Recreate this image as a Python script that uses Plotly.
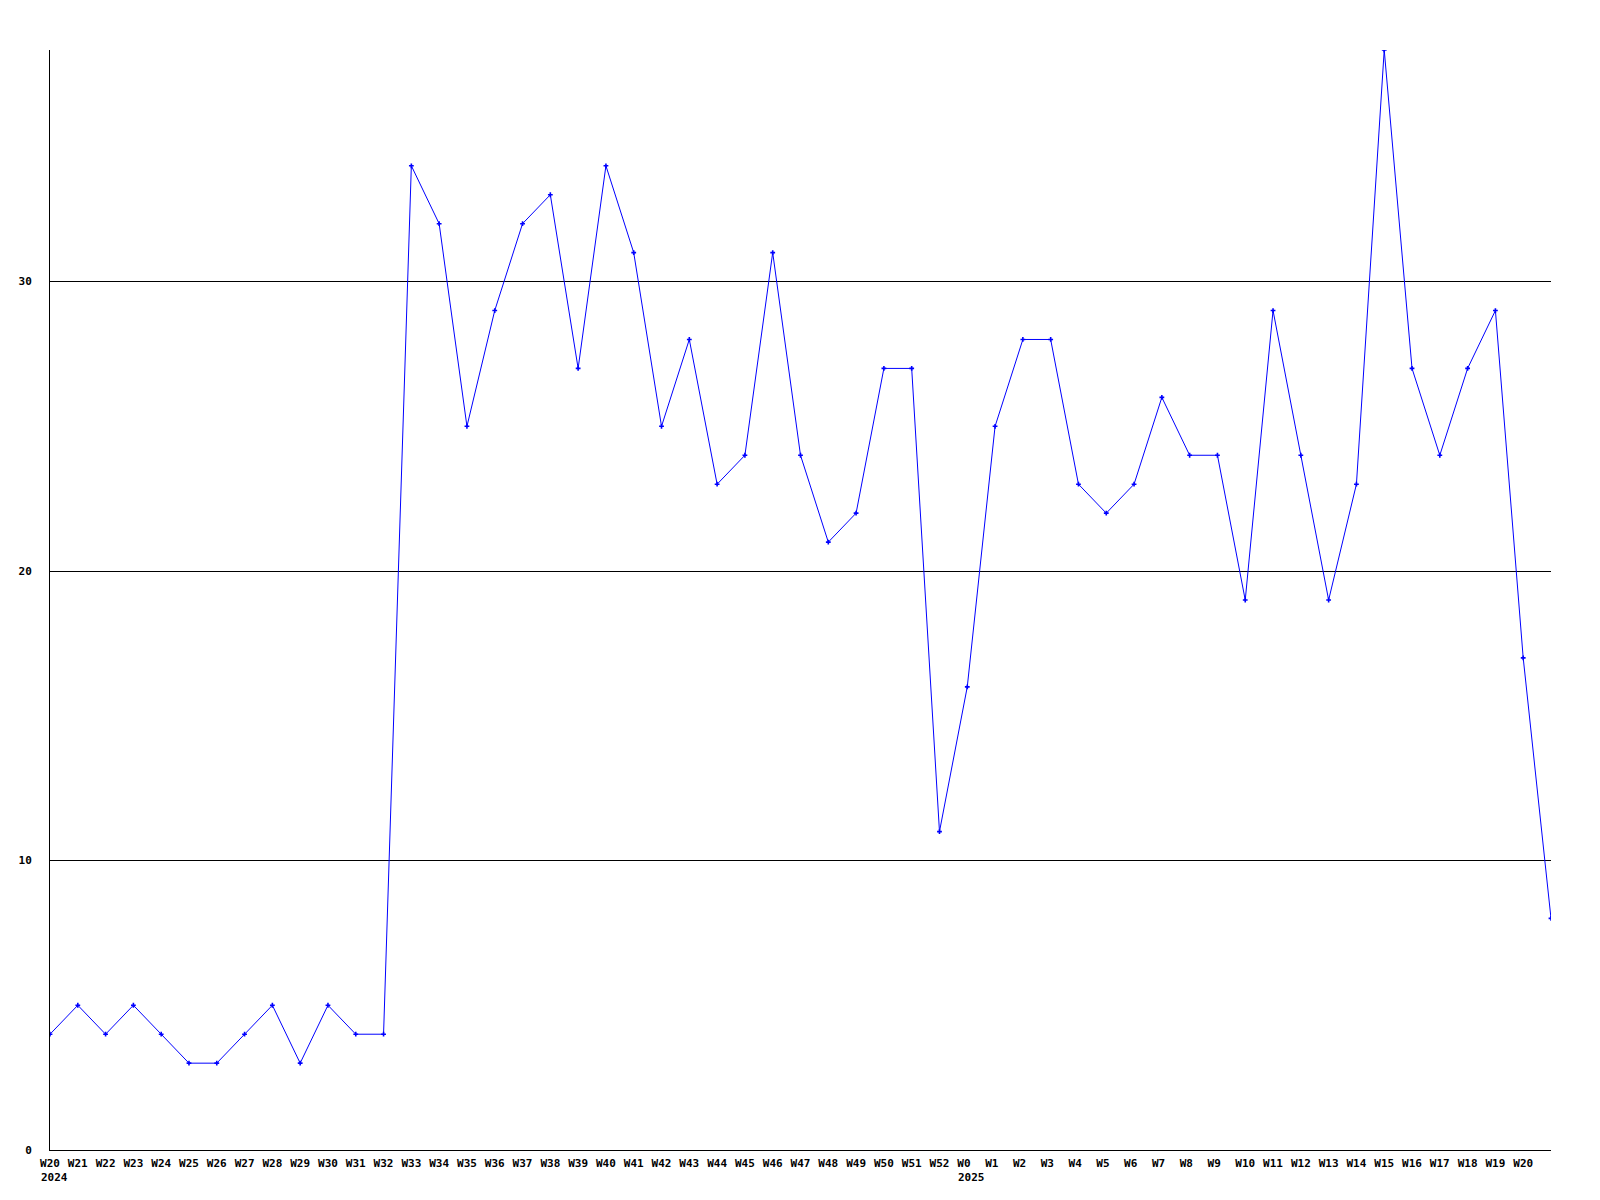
import plotly.graph_objects as go

weeks = ["W20", "W21", "W22", "W23", "W24", "W25", "W26", "W27", "W28", "W29",
         "W30", "W31", "W32", "W33", "W34", "W35", "W36", "W37", "W38", "W39",
         "W40", "W41", "W42", "W43", "W44", "W45", "W46", "W47", "W48", "W49",
         "W50", "W51", "W52", "W0", "W1", "W2", "W3", "W4", "W5", "W6",
         "W7", "W8", "W9", "W10", "W11", "W12", "W13", "W14", "W15", "W16",
         "W17", "W18", "W19", "W20", "W21"]
values = [4, 5, 4, 5, 4, 3, 3, 4, 5, 3,
          5, 4, 4, 34, 32, 25, 29, 32, 33, 27,
          34, 31, 25, 28, 23, 24, 31, 24, 21, 22,
          27, 27, 11, 16, 25, 28, 28, 23, 22, 23,
          26, 24, 24, 19, 29, 24, 19, 23, 38, 27,
          24, 27, 29, 17, 8]
year_labels = {0: "2024", 33: "2025"}
y_ticks = [0, 10, 20, 30]

x_idx = list(range(len(weeks)))
shown = x_idx[:-1]

font = dict(family="DejaVu Sans Mono", size=11, color="black", weight="bold")

fig = go.Figure()
fig.add_trace(go.Scatter(
    x=x_idx, y=values, mode="lines+markers",
    line=dict(color="#0000ff", width=1),
    marker=dict(symbol="cross", size=4, color="#0000ff", line=dict(width=0)),
    cliponaxis=True, showlegend=False, hoverinfo="skip"))

for i, yr in year_labels.items():
    fig.add_annotation(x=i, y=0, xref="x", yref="paper", text=yr, showarrow=False,
                       xanchor="left", yanchor="top", xshift=-11, yshift=-19,
                       font=font)

fig.update_layout(
    width=1600, height=1200,
    margin=dict(l=50, r=49, t=50, b=50, pad=0),
    paper_bgcolor="white", plot_bgcolor="white",
    xaxis=dict(range=[0, len(weeks) - 1], tickvals=shown,
               ticktext=[weeks[i].ljust(3, "\u00a0") for i in shown],
               showgrid=False, zeroline=False, showline=True,
               linecolor="black", linewidth=1, ticks="",
               tickfont=font, ticklabelstandoff=3, fixedrange=True),
    yaxis=dict(range=[0, 38], tickvals=y_ticks, showgrid=True,
               gridcolor="black", gridwidth=1, zeroline=False,
               showline=True, linecolor="black", linewidth=1, ticks="",
               tickfont=font, ticklabelstandoff=15, fixedrange=True),
)

fig.write_html("out.html", config={"displayModeBar": False})
with open("out.html", "r", encoding="utf-8") as f:
    html = f.read()
html = html.replace("<body>", '<body style="margin:0;overflow:hidden">', 1)
with open("out.html", "w", encoding="utf-8") as f:
    f.write(html)
